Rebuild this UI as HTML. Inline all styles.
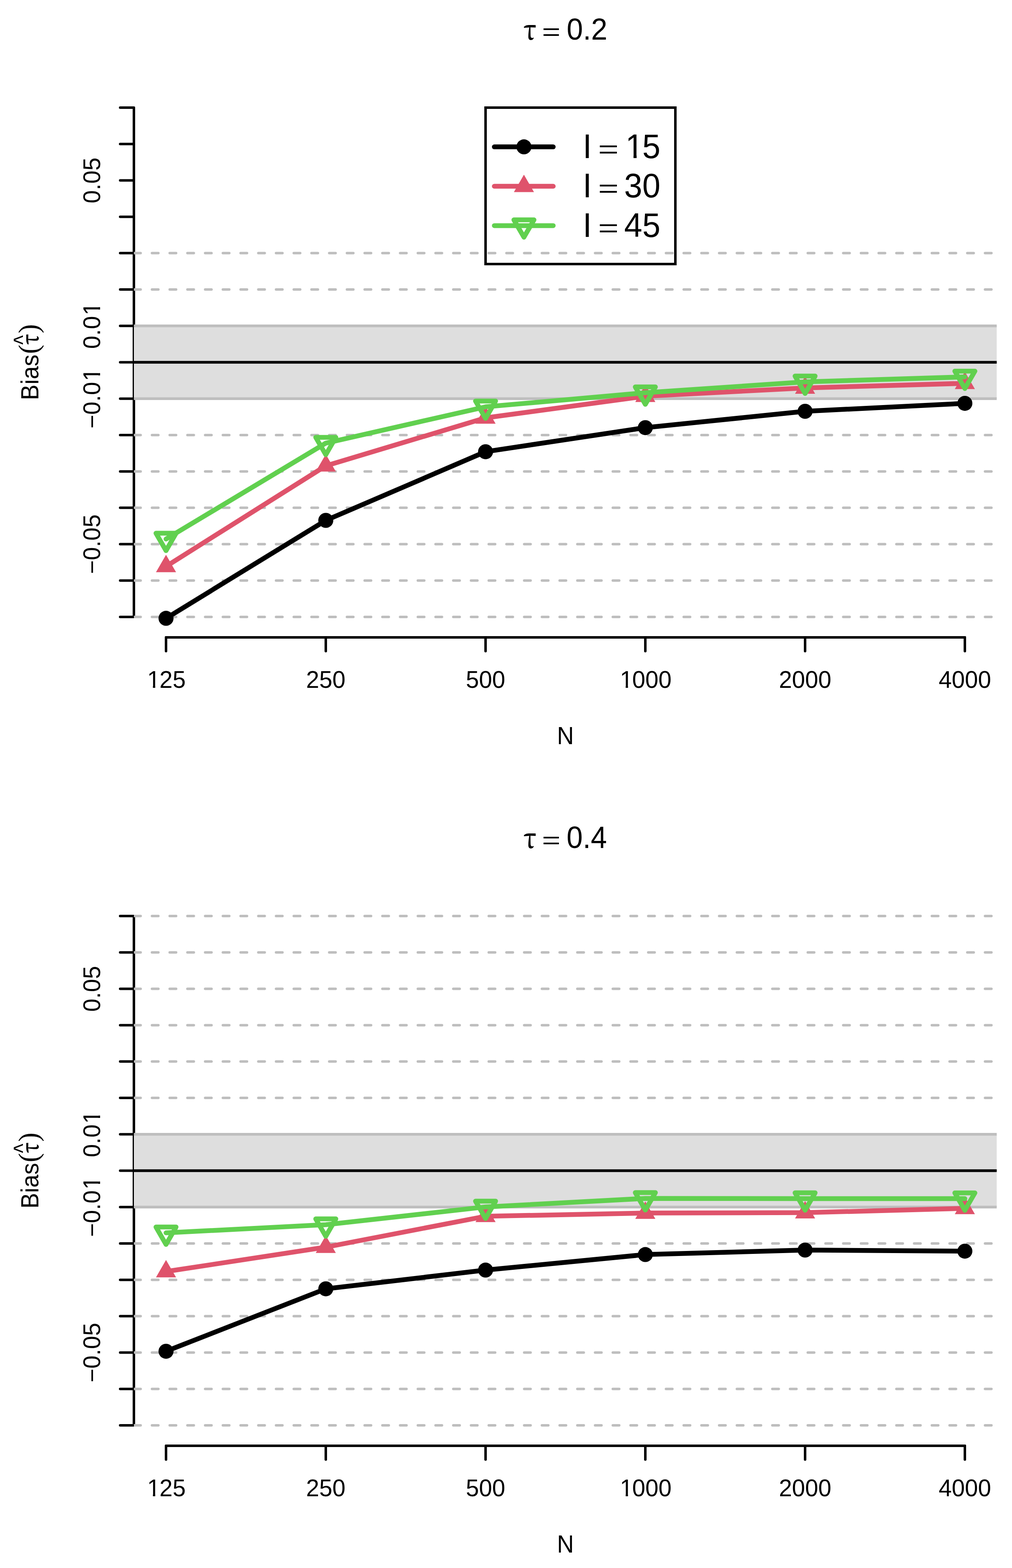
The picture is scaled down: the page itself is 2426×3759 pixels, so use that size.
<!DOCTYPE html>
<html><head><meta charset="utf-8"><title>Bias plot</title>
<style>
html,body{margin:0;padding:0;background:#fff;}
svg{display:block;}
text{font-family:"Liberation Sans",sans-serif;fill:#000;}
.tau{font-family:"Noto Serif CJK SC","Liberation Serif",serif;font-weight:600;}
.ser{font-family:"Liberation Serif",serif;}
</style></head><body>
<svg width="2426" height="3759" viewBox="0 0 2426 3759">
<defs><clipPath id="c1_0" clipPathUnits="userSpaceOnUse"><rect x="-10000" y="-10000" width="20000" height="9994.82"/><rect x="-10000" y="-10000" width="10005.1" height="20000"/><rect x="15.74" y="-10000" width="5.53" height="20000"/><rect x="31.45" y="-10000" width="20000" height="20000"/></clipPath><clipPath id="c1_1" clipPathUnits="userSpaceOnUse"><rect x="-10000" y="-10000" width="20000" height="9994.82"/><rect x="-10000" y="-10000" width="10005.1" height="20000"/><rect x="15.74" y="-10000" width="5.53" height="20000"/><rect x="31.45" y="-10000" width="20000" height="20000"/></clipPath><clipPath id="c1_2" clipPathUnits="userSpaceOnUse"><rect x="-10000" y="-10000" width="20000" height="9994.82"/><rect x="-10000" y="-10000" width="10028.66" height="20000"/><rect x="39.3" y="-10000" width="5.53" height="20000"/><rect x="55.01" y="-10000" width="20000" height="20000"/></clipPath><clipPath id="c1_3" clipPathUnits="userSpaceOnUse"><rect x="-10000" y="-10000" width="20000" height="9994.82"/><rect x="-10000" y="-10000" width="10045.16" height="20000"/><rect x="55.8" y="-10000" width="5.53" height="20000"/><rect x="71.51" y="-10000" width="20000" height="20000"/></clipPath><clipPath id="c1_4" clipPathUnits="userSpaceOnUse"><rect x="-10000" y="-10000" width="20000" height="9993.23"/><rect x="-10000" y="-10000" width="10007.93" height="20000"/><rect x="22.33" y="-10000" width="7.44" height="20000"/><rect x="43.55" y="-10000" width="20000" height="20000"/></clipPath><clipPath id="c1_5" clipPathUnits="userSpaceOnUse"><rect x="-10000" y="-10000" width="20000" height="9994.82"/><rect x="-10000" y="-10000" width="10005.1" height="20000"/><rect x="15.74" y="-10000" width="5.53" height="20000"/><rect x="31.45" y="-10000" width="20000" height="20000"/></clipPath><clipPath id="c1_6" clipPathUnits="userSpaceOnUse"><rect x="-10000" y="-10000" width="20000" height="9994.82"/><rect x="-10000" y="-10000" width="10005.1" height="20000"/><rect x="15.74" y="-10000" width="5.53" height="20000"/><rect x="31.45" y="-10000" width="20000" height="20000"/></clipPath><clipPath id="c1_7" clipPathUnits="userSpaceOnUse"><rect x="-10000" y="-10000" width="20000" height="9994.82"/><rect x="-10000" y="-10000" width="10028.66" height="20000"/><rect x="39.3" y="-10000" width="5.53" height="20000"/><rect x="55.01" y="-10000" width="20000" height="20000"/></clipPath><clipPath id="c1_8" clipPathUnits="userSpaceOnUse"><rect x="-10000" y="-10000" width="20000" height="9994.82"/><rect x="-10000" y="-10000" width="10045.16" height="20000"/><rect x="55.8" y="-10000" width="5.53" height="20000"/><rect x="71.51" y="-10000" width="20000" height="20000"/></clipPath><clipPath id="pr"><rect x="321" y="209.2" width="2068.6" height="1318.6"/></clipPath></defs>
<rect width="2426" height="3759" fill="#fff"/>
<g transform="translate(0,0)">
<g stroke="#000" stroke-width="6" stroke-linecap="round" fill="none">
<line x1="321" y1="258.03" x2="321" y2="1478.97" stroke-linecap="butt"/>
<line x1="288" y1="1478.97" x2="321" y2="1478.97"/>
<line x1="288" y1="1391.76" x2="321" y2="1391.76"/>
<line x1="288" y1="1304.55" x2="321" y2="1304.55"/>
<line x1="288" y1="1217.34" x2="321" y2="1217.34"/>
<line x1="288" y1="1130.13" x2="321" y2="1130.13"/>
<line x1="288" y1="1042.92" x2="321" y2="1042.92"/>
<line x1="288" y1="955.71" x2="321" y2="955.71"/>
<line x1="288" y1="868.5" x2="321" y2="868.5"/>
<line x1="288" y1="781.29" x2="321" y2="781.29"/>
<line x1="288" y1="694.08" x2="321" y2="694.08"/>
<line x1="288" y1="606.87" x2="321" y2="606.87"/>
<line x1="288" y1="519.66" x2="321" y2="519.66"/>
<line x1="288" y1="432.45" x2="321" y2="432.45"/>
<line x1="288" y1="345.24" x2="321" y2="345.24"/>
<line x1="288" y1="258.03" x2="321" y2="258.03"/>
<line x1="398" y1="1528" x2="2313" y2="1528"/>
<line x1="398" y1="1528" x2="398" y2="1561"/>
<line x1="781" y1="1528" x2="781" y2="1561"/>
<line x1="1164" y1="1528" x2="1164" y2="1561"/>
<line x1="1547" y1="1528" x2="1547" y2="1561"/>
<line x1="1930" y1="1528" x2="1930" y2="1561"/>
<line x1="2313" y1="1528" x2="2313" y2="1561"/>
</g>
<g clip-path="url(#pr)">
<rect x="321" y="781.29" width="2068.6" height="174.42" fill="#DEDEDE"/>
<line x1="321" y1="781.29" x2="2389.6" y2="781.29" stroke="#BEBEBE" stroke-width="6.4"/>
<line x1="321" y1="955.71" x2="2389.6" y2="955.71" stroke="#BEBEBE" stroke-width="6.4"/>
<line x1="321" y1="868.5" x2="2389.6" y2="868.5" stroke="#000" stroke-width="6.4"/>
<g stroke="#BEBEBE" stroke-width="6" stroke-linecap="round" stroke-dasharray="15.4 27.09">
<line x1="321.8" y1="606.87" x2="2399.6" y2="606.87"/>
<line x1="321.8" y1="694.08" x2="2399.6" y2="694.08"/>
<line x1="321.8" y1="1042.92" x2="2399.6" y2="1042.92"/>
<line x1="321.8" y1="1130.13" x2="2399.6" y2="1130.13"/>
<line x1="321.8" y1="1217.34" x2="2399.6" y2="1217.34"/>
<line x1="321.8" y1="1304.55" x2="2399.6" y2="1304.55"/>
<line x1="321.8" y1="1391.76" x2="2399.6" y2="1391.76"/>
<line x1="321.8" y1="1478.97" x2="2399.6" y2="1478.97"/>
</g>
</g>
<polyline points="398,1482.3 781,1247.5 1164,1082.9 1547,1025.2 1930,986 2313,966.9" fill="none" stroke="#000" stroke-width="11.5" stroke-linejoin="round" stroke-linecap="round"/>
<circle cx="398" cy="1482.3" r="18" fill="#000"/>
<circle cx="781" cy="1247.5" r="18" fill="#000"/>
<circle cx="1164" cy="1082.9" r="18" fill="#000"/>
<circle cx="1547" cy="1025.2" r="18" fill="#000"/>
<circle cx="1930" cy="986" r="18" fill="#000"/>
<circle cx="2313" cy="966.9" r="18" fill="#000"/>
<polyline points="398,1357.8 781,1116.7 1164,1001.8 1547,949.8 1930,930 2313,918.9" fill="none" stroke="#DF536B" stroke-width="11.5" stroke-linejoin="round" stroke-linecap="round"/>
<polygon points="398,1330 422.1,1371.7 373.9,1371.7" fill="#DF536B"/>
<polygon points="781,1088.9 805.1,1130.6 756.9,1130.6" fill="#DF536B"/>
<polygon points="1164,974 1188.1,1015.7 1139.9,1015.7" fill="#DF536B"/>
<polygon points="1547,922 1571.1,963.7 1522.9,963.7" fill="#DF536B"/>
<polygon points="1930,902.2 1954.1,943.9 1905.9,943.9" fill="#DF536B"/>
<polygon points="2313,891.1 2337.1,932.8 2288.9,932.8" fill="#DF536B"/>
<polyline points="398,1292.2 781,1062.3 1164,975.3 1547,941.5 1930,915.5 2313,903.6" fill="none" stroke="#61D04F" stroke-width="11.5" stroke-linejoin="round" stroke-linecap="round"/>
<polygon points="398,1320 422.1,1278.3 373.9,1278.3" fill="none" stroke="#61D04F" stroke-width="11.5" stroke-linejoin="round"/>
<polygon points="781,1090.1 805.1,1048.4 756.9,1048.4" fill="none" stroke="#61D04F" stroke-width="11.5" stroke-linejoin="round"/>
<polygon points="1164,1003.1 1188.1,961.4 1139.9,961.4" fill="none" stroke="#61D04F" stroke-width="11.5" stroke-linejoin="round"/>
<polygon points="1547,969.3 1571.1,927.6 1522.9,927.6" fill="none" stroke="#61D04F" stroke-width="11.5" stroke-linejoin="round"/>
<polygon points="1930,943.3 1954.1,901.6 1905.9,901.6" fill="none" stroke="#61D04F" stroke-width="11.5" stroke-linejoin="round"/>
<polygon points="2313,931.4 2337.1,889.7 2288.9,889.7" fill="none" stroke="#61D04F" stroke-width="11.5" stroke-linejoin="round"/>
<g font-size="56.5">
<text transform="translate(350.87,1649)" clip-path="url(#c1_0)" dx="1.81 -1.81">125</text>
<text transform="translate(733.87,1649)">250</text>
<text transform="translate(1116.87,1649)">500</text>
<text transform="translate(1484.15,1649)" clip-path="url(#c1_1)" dx="1.81 -1.81">1000</text>
<text transform="translate(1867.15,1649)">2000</text>
<text transform="translate(2250.15,1649)">4000</text>
</g>
<g font-size="56.5">
<g transform="translate(240,432.45) rotate(-90)"><text x="-54.98" y="0">0.05</text></g>
<g transform="translate(240,781.29) rotate(-90)"><text x="-54.98" y="0" dx="0 0 0 1.81" clip-path="url(#c1_2)">0.01</text></g>
<g transform="translate(240,955.71) rotate(-90)"><text x="-71.48" y="0" dx="0 0 0 0 1.81" clip-path="url(#c1_3)">−0.01</text></g>
<g transform="translate(240,1304.55) rotate(-90)"><text x="-71.48" y="0">−0.05</text></g>
</g>
<text transform="translate(1335.34,1783.9) scale(1,1.055)" font-size="56">N</text>
<g transform="translate(92,868.5) rotate(-90)">
<text transform="translate(-90.81,0) scale(1,1.0547)" font-size="56.34">Bias</text>
<text class="ser" transform="translate(20.02,-1.16) scale(1,1.0121)" font-size="66.61">(</text>
<text class="ser" transform="translate(69.52,-1.16) scale(1,1.0302)" font-size="65.45">)</text>
<text class="tau" transform="translate(41.94,0.08) scale(1,1.1012)" font-size="50">τ</text>
<text transform="translate(42.36,-17.12) scale(1,1.2604)" font-size="48.04">^</text>
</g>
<text class="tau" transform="translate(1254.91,94.79) scale(1,1.1222)" font-size="59.17">τ</text>
<text transform="translate(1299.21,94.51) scale(1,0.7372)" font-size="75.88">=</text>
<text transform="translate(1358.5,94.77) scale(1,1.0431)" font-size="70.08">0.2</text>
</g>
<rect x="1164" y="258" width="455" height="375" fill="none" stroke="#000" stroke-width="6"/>
<line x1="1185" y1="352.1" x2="1326.2" y2="352.1" stroke="#000" stroke-width="11.5" stroke-linecap="round"/>
<line x1="1185" y1="446.5" x2="1326.2" y2="446.5" stroke="#DF536B" stroke-width="11.5" stroke-linecap="round"/>
<line x1="1185" y1="540.9" x2="1326.2" y2="540.9" stroke="#61D04F" stroke-width="11.5" stroke-linecap="round"/>
<circle cx="1256" cy="352.1" r="18" fill="#000"/>
<polygon points="1256,418.7 1280.1,460.4 1231.9,460.4" fill="#DF536B"/>
<polygon points="1256,568.7 1280.1,527 1231.9,527" fill="none" stroke="#61D04F" stroke-width="11.5" stroke-linejoin="round"/>
<text transform="translate(1397.03,378.9) scale(1,1.0396)" font-size="78">I</text>
<text transform="translate(1433.78,378.04) scale(1,0.7004)" font-size="84.33">=</text>
<text transform="translate(1496.34,379) scale(1,1.04)" font-size="78" dx="3 -3" clip-path="url(#c1_4)">15</text>
<text transform="translate(1397.03,473.3) scale(1,1.0396)" font-size="78">I</text>
<text transform="translate(1433.78,472.44) scale(1,0.7004)" font-size="84.33">=</text>
<text transform="translate(1496.34,473.4) scale(1,1.04)" font-size="78">30</text>
<text transform="translate(1397.03,567.7) scale(1,1.0396)" font-size="78">I</text>
<text transform="translate(1433.78,566.84) scale(1,0.7004)" font-size="84.33">=</text>
<text transform="translate(1496.34,567.8) scale(1,1.04)" font-size="78">45</text>
<g transform="translate(0,1938)">
<g stroke="#000" stroke-width="6" stroke-linecap="round" fill="none">
<line x1="321" y1="258.03" x2="321" y2="1478.97" stroke-linecap="butt"/>
<line x1="288" y1="1478.97" x2="321" y2="1478.97"/>
<line x1="288" y1="1391.76" x2="321" y2="1391.76"/>
<line x1="288" y1="1304.55" x2="321" y2="1304.55"/>
<line x1="288" y1="1217.34" x2="321" y2="1217.34"/>
<line x1="288" y1="1130.13" x2="321" y2="1130.13"/>
<line x1="288" y1="1042.92" x2="321" y2="1042.92"/>
<line x1="288" y1="955.71" x2="321" y2="955.71"/>
<line x1="288" y1="868.5" x2="321" y2="868.5"/>
<line x1="288" y1="781.29" x2="321" y2="781.29"/>
<line x1="288" y1="694.08" x2="321" y2="694.08"/>
<line x1="288" y1="606.87" x2="321" y2="606.87"/>
<line x1="288" y1="519.66" x2="321" y2="519.66"/>
<line x1="288" y1="432.45" x2="321" y2="432.45"/>
<line x1="288" y1="345.24" x2="321" y2="345.24"/>
<line x1="288" y1="258.03" x2="321" y2="258.03"/>
<line x1="398" y1="1528" x2="2313" y2="1528"/>
<line x1="398" y1="1528" x2="398" y2="1561"/>
<line x1="781" y1="1528" x2="781" y2="1561"/>
<line x1="1164" y1="1528" x2="1164" y2="1561"/>
<line x1="1547" y1="1528" x2="1547" y2="1561"/>
<line x1="1930" y1="1528" x2="1930" y2="1561"/>
<line x1="2313" y1="1528" x2="2313" y2="1561"/>
</g>
<g clip-path="url(#pr)">
<rect x="321" y="781.29" width="2068.6" height="174.42" fill="#DEDEDE"/>
<line x1="321" y1="781.29" x2="2389.6" y2="781.29" stroke="#BEBEBE" stroke-width="6.4"/>
<line x1="321" y1="955.71" x2="2389.6" y2="955.71" stroke="#BEBEBE" stroke-width="6.4"/>
<line x1="321" y1="868.5" x2="2389.6" y2="868.5" stroke="#000" stroke-width="6.4"/>
<g stroke="#BEBEBE" stroke-width="6" stroke-linecap="round" stroke-dasharray="15.4 27.09">
<line x1="321.8" y1="258.03" x2="2399.6" y2="258.03"/>
<line x1="321.8" y1="345.24" x2="2399.6" y2="345.24"/>
<line x1="321.8" y1="432.45" x2="2399.6" y2="432.45"/>
<line x1="321.8" y1="519.66" x2="2399.6" y2="519.66"/>
<line x1="321.8" y1="606.87" x2="2399.6" y2="606.87"/>
<line x1="321.8" y1="694.08" x2="2399.6" y2="694.08"/>
<line x1="321.8" y1="1042.92" x2="2399.6" y2="1042.92"/>
<line x1="321.8" y1="1130.13" x2="2399.6" y2="1130.13"/>
<line x1="321.8" y1="1217.34" x2="2399.6" y2="1217.34"/>
<line x1="321.8" y1="1304.55" x2="2399.6" y2="1304.55"/>
<line x1="321.8" y1="1391.76" x2="2399.6" y2="1391.76"/>
<line x1="321.8" y1="1478.97" x2="2399.6" y2="1478.97"/>
</g>
</g>
<polyline points="398,1301.4 781,1151.7 1164,1106.8 1547,1069.6 1930,1058.8 2313,1061.4" fill="none" stroke="#000" stroke-width="11.5" stroke-linejoin="round" stroke-linecap="round"/>
<circle cx="398" cy="1301.4" r="18" fill="#000"/>
<circle cx="781" cy="1151.7" r="18" fill="#000"/>
<circle cx="1164" cy="1106.8" r="18" fill="#000"/>
<circle cx="1547" cy="1069.6" r="18" fill="#000"/>
<circle cx="1930" cy="1058.8" r="18" fill="#000"/>
<circle cx="2313" cy="1061.4" r="18" fill="#000"/>
<polyline points="398,1110.3 781,1051.8 1164,977.8 1547,970 1930,969.1 2313,958.9" fill="none" stroke="#DF536B" stroke-width="11.5" stroke-linejoin="round" stroke-linecap="round"/>
<polygon points="398,1082.5 422.1,1124.2 373.9,1124.2" fill="#DF536B"/>
<polygon points="781,1024 805.1,1065.7 756.9,1065.7" fill="#DF536B"/>
<polygon points="1164,950 1188.1,991.7 1139.9,991.7" fill="#DF536B"/>
<polygon points="1547,942.2 1571.1,983.9 1522.9,983.9" fill="#DF536B"/>
<polygon points="1930,941.3 1954.1,983 1905.9,983" fill="#DF536B"/>
<polygon points="2313,931.1 2337.1,972.8 2288.9,972.8" fill="#DF536B"/>
<polyline points="398,1017.5 781,998 1164,955.4 1547,935 1930,935.4 2313,935.6" fill="none" stroke="#61D04F" stroke-width="11.5" stroke-linejoin="round" stroke-linecap="round"/>
<polygon points="398,1045.3 422.1,1003.6 373.9,1003.6" fill="none" stroke="#61D04F" stroke-width="11.5" stroke-linejoin="round"/>
<polygon points="781,1025.8 805.1,984.1 756.9,984.1" fill="none" stroke="#61D04F" stroke-width="11.5" stroke-linejoin="round"/>
<polygon points="1164,983.2 1188.1,941.5 1139.9,941.5" fill="none" stroke="#61D04F" stroke-width="11.5" stroke-linejoin="round"/>
<polygon points="1547,962.8 1571.1,921.1 1522.9,921.1" fill="none" stroke="#61D04F" stroke-width="11.5" stroke-linejoin="round"/>
<polygon points="1930,963.2 1954.1,921.5 1905.9,921.5" fill="none" stroke="#61D04F" stroke-width="11.5" stroke-linejoin="round"/>
<polygon points="2313,963.4 2337.1,921.7 2288.9,921.7" fill="none" stroke="#61D04F" stroke-width="11.5" stroke-linejoin="round"/>
<g font-size="56.5">
<text transform="translate(350.87,1649)" clip-path="url(#c1_5)" dx="1.81 -1.81">125</text>
<text transform="translate(733.87,1649)">250</text>
<text transform="translate(1116.87,1649)">500</text>
<text transform="translate(1484.15,1649)" clip-path="url(#c1_6)" dx="1.81 -1.81">1000</text>
<text transform="translate(1867.15,1649)">2000</text>
<text transform="translate(2250.15,1649)">4000</text>
</g>
<g font-size="56.5">
<g transform="translate(240,432.45) rotate(-90)"><text x="-54.98" y="0">0.05</text></g>
<g transform="translate(240,781.29) rotate(-90)"><text x="-54.98" y="0" dx="0 0 0 1.81" clip-path="url(#c1_7)">0.01</text></g>
<g transform="translate(240,955.71) rotate(-90)"><text x="-71.48" y="0" dx="0 0 0 0 1.81" clip-path="url(#c1_8)">−0.01</text></g>
<g transform="translate(240,1304.55) rotate(-90)"><text x="-71.48" y="0">−0.05</text></g>
</g>
<text transform="translate(1335.34,1783.9) scale(1,1.055)" font-size="56">N</text>
<g transform="translate(92,868.5) rotate(-90)">
<text transform="translate(-90.81,0) scale(1,1.0547)" font-size="56.34">Bias</text>
<text class="ser" transform="translate(20.02,-1.16) scale(1,1.0121)" font-size="66.61">(</text>
<text class="ser" transform="translate(69.52,-1.16) scale(1,1.0302)" font-size="65.45">)</text>
<text class="tau" transform="translate(41.94,0.08) scale(1,1.1012)" font-size="50">τ</text>
<text transform="translate(42.36,-17.12) scale(1,1.2604)" font-size="48.04">^</text>
</g>
<text class="tau" transform="translate(1254.91,94.79) scale(1,1.1222)" font-size="59.17">τ</text>
<text transform="translate(1299.21,94.51) scale(1,0.7372)" font-size="75.88">=</text>
<text transform="translate(1358.22,95.17) scale(1,1.0531)" font-size="69.55">0.4</text>
</g>
</svg>
</body></html>
